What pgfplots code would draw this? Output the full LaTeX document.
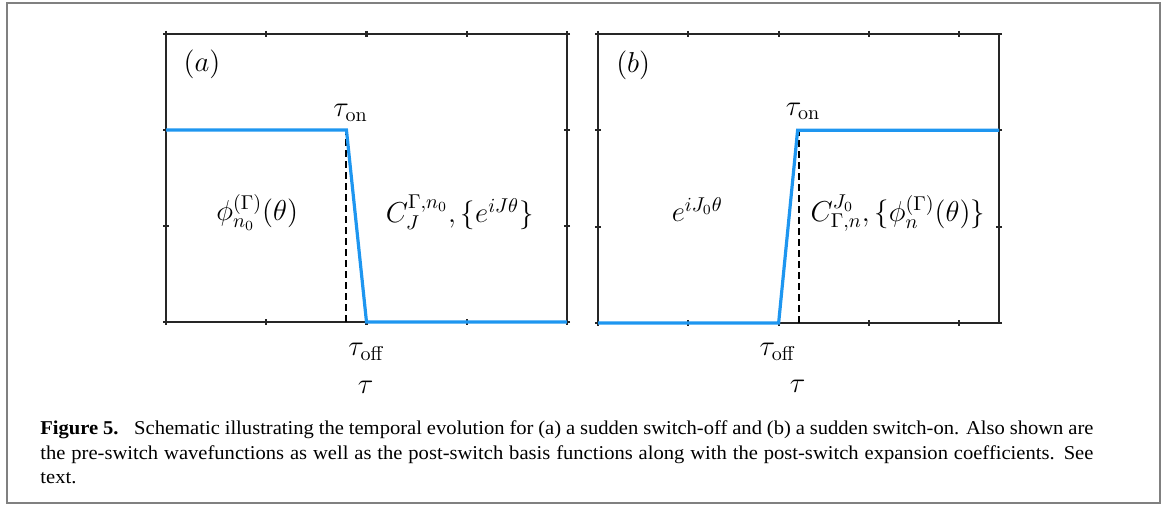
\documentclass[border=0pt]{standalone}
\usepackage[no-math]{fontspec}
\usepackage{pgfplots}
\pgfplotsset{compat=1.18}
\newfontfamily\capfont[FakeStretch=1.05]{Liberation Serif}

\definecolor{axgray}{RGB}{38,38,38}
\definecolor{swblue}{RGB}{30,150,240}
\definecolor{boxgray}{RGB}{128,128,128}

\pgfplotsset{
  sch/.style={
    scale only axis,
    anchor=south west,
    width=200.5pt, height=144pt,
    xmin=0, ymin=0, ymax=1.5,
    ytick={0,0.5,1,1.5},
    xticklabels={}, yticklabels={},
    tick align=center,
    major tick length=3pt,
    axis line style={line width=1.4pt, color=axgray},
    every tick/.style={line width=1.1pt, color=axgray},
    clip=false,
  },
  swline/.style={color=swblue, line width=1.6pt, line join=miter},
  swdash/.style={black, line width=1pt, dash pattern=on 3.5pt off 2pt},
}

\begin{document}
\begin{tikzpicture}[font=\fontsize{14.5}{17}\selectfont]
  \useasboundingbox (0,0) rectangle (582.5pt,-253pt);
  \draw[boxgray, line width=1.25pt] (3.5pt,-1.5pt) rectangle (580pt,-251.5pt);

  % (a) sudden switch-off
  \begin{axis}[sch, at={(83pt,-161pt)}, xmax=4, xtick={0,...,4}]
    \addplot[swdash] coordinates {(1.8,0) (1.8,1)};
    \addplot[swline] coordinates {(0,1) (1.8,1) (2.0,0) (4,0)};
    \node at (axis cs:0.36,1.34) {$(a)$};
    \node at (axis cs:1.84,1.09) {$\tau_{\mathrm{on}}$};
    \node at (axis cs:2.0,-0.155) {$\tau_{\mathrm{off}}$};
    \node at (axis cs:1.99,-0.34) {$\tau$};
    \node at (axis cs:0.91,0.57) {$\phi_{n_0}^{(\Gamma)}(\theta)$};
    \node at (axis cs:2.93,0.57) {$C_J^{\Gamma,n_0},\{e^{iJ\theta}\}$};
  \end{axis}

  % (b) sudden switch-on
  \begin{axis}[sch, at={(299pt,-161.5pt)}, height=144.5pt, xmax=4.44, xtick={0,...,4}]
    \addplot[swdash] coordinates {(2.23,0) (2.23,1)};
    \addplot[swline] coordinates {(0,0) (2.0,0) (2.21,1) (4.44,1)};
    \node at (axis cs:0.39,1.34) {$(b)$};
    \node at (axis cs:2.27,1.10) {$\tau_{\mathrm{on}}$};
    \node at (axis cs:1.99,-0.15) {$\tau_{\mathrm{off}}$};
    \node at (axis cs:2.21,-0.33) {$\tau$};
    \node at (axis cs:1.10,0.59) {$e^{iJ_0\theta}$};
    \node at (axis cs:3.32,0.57) {$C_{\Gamma,n}^{J_0},\{\phi_n^{(\Gamma)}(\theta)\}$};
  \end{axis}

  % caption
  \begin{scope}[every node/.style={anchor=base west, inner sep=0pt, font=\capfont\fontsize{9.8}{12}\selectfont}]
    \node at (20pt,-217.5pt) {\makebox[526.5pt][s]{\textbf{Figure 5.}\hspace{0.45em} Schematic illustrating the temporal evolution for (a) a sudden switch-off and (b) a sudden switch-on. Also shown are}};
    \node at (20pt,-229.8pt) {\makebox[526.5pt][s]{the pre-switch wavefunctions as well as the post-switch basis functions along with the post-switch expansion coefficients. See}};
    \node at (20pt,-242pt) {text.};
  \end{scope}
\end{tikzpicture}
\end{document}
